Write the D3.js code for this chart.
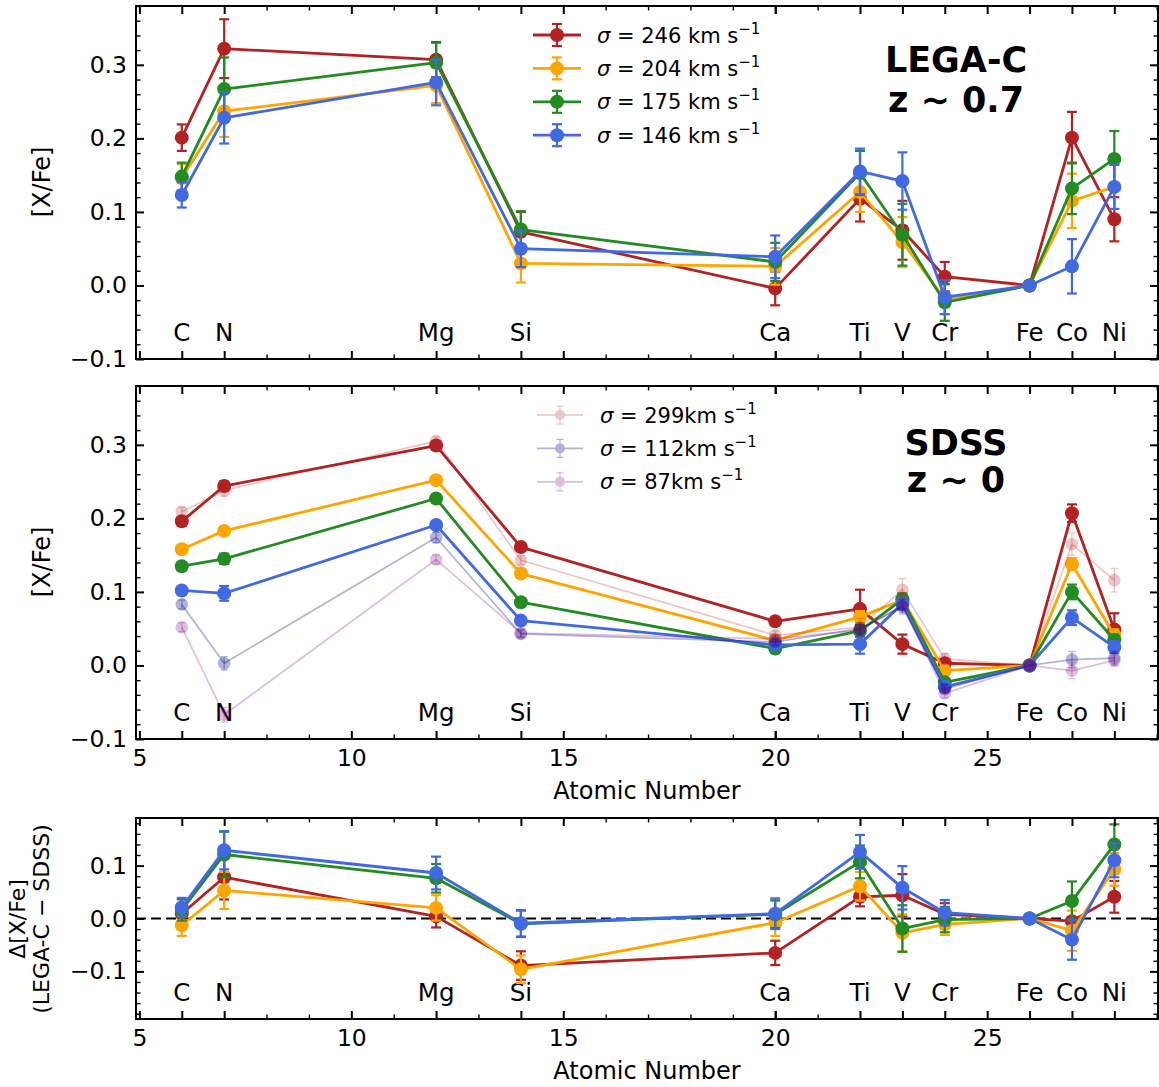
<!DOCTYPE html>
<html><head><meta charset="utf-8">
<script src="https://cdn.jsdelivr.net/npm/d3@7"></script>
<style>body{margin:0;background:#fff;} text{font-family:"DejaVu Sans",sans-serif;fill:#000;}</style>
</head><body><svg id="chart" width="1159" height="1087"></svg>
<script>
// ---------------- DATA ----------------
const elements     = ["C","N","Mg","Si","Ca","Ti","V","Cr","Fe","Co","Ni"];
const atomicNumber = [6, 7, 12, 14, 20, 22, 23, 24, 26, 27, 28];

// LEGA-C z~0.7 [X/Fe]
const legacSigma = [246, 204, 175, 146];
const legac246    = [0.201, 0.322, 0.307, 0.073, -0.004, 0.118, 0.075, 0.012, 0, 0.201, 0.090];
const legac246Err = [0.018, 0.040, 0.024, 0.027, 0.023, 0.031, 0.040, 0.020, 0, 0.035, 0.030];
const legac204    = [0.146, 0.237, 0.272, 0.030, 0.026, 0.127, 0.059, -0.019, 0, 0.115, 0.134];
const legac204Err = [0.019, 0.035, 0.024, 0.026, 0.025, 0.027, 0.034, 0.020, 0, 0.037, 0.030];
const legac175    = [0.148, 0.267, 0.303, 0.076, 0.032, 0.153, 0.069, -0.023, 0, 0.132, 0.172];
const legac175Err = [0.019, 0.043, 0.027, 0.025, 0.026, 0.030, 0.042, 0.025, 0, 0.035, 0.038];
const legac146    = [0.123, 0.228, 0.276, 0.050, 0.039, 0.155, 0.142, -0.016, 0, 0.026, 0.134];
const legac146Err = [0.017, 0.035, 0.031, 0.025, 0.029, 0.031, 0.039, 0.023, 0, 0.037, 0.030];

// SDSS z~0 [X/Fe]
const sdss246    = [0.196, 0.244, 0.299, 0.161, 0.060, 0.077, 0.029, 0.003, 0, 0.207, 0.049];
const sdss246Err = [0.006, 0.006, 0.005, 0.005, 0.004, 0.026, 0.013, 0.005, 0, 0.012, 0.022];
const sdss204    = [0.158, 0.183, 0.252, 0.125, 0.034, 0.066, 0.089, -0.007, 0, 0.138, 0.041];
const sdss204Err = [0.005, 0.005, 0.004, 0.005, 0.004, 0.008, 0.008, 0.005, 0, 0.008, 0.008];
const sdss175    = [0.135, 0.145, 0.227, 0.086, 0.023, 0.047, 0.090, -0.023, 0, 0.100, 0.035];
const sdss175Err = [0.005, 0.007, 0.004, 0.004, 0.004, 0.008, 0.008, 0.005, 0, 0.010, 0.007];
const sdss146    = [0.102, 0.098, 0.191, 0.061, 0.028, 0.029, 0.084, -0.029, 0, 0.065, 0.025];
const sdss146Err = [0.005, 0.010, 0.004, 0.004, 0.004, 0.013, 0.008, 0.006, 0, 0.010, 0.008];
const sdssExtraSigma = [299, 112, 87];
const sdss299    = [0.209, 0.238, 0.305, 0.143, 0.041, 0.052, 0.103, 0.009, 0, 0.165, 0.116];
const sdss299Err = [0.006, 0.008, 0.006, 0.006, 0.006, 0.012, 0.015, 0.007, 0, 0.015, 0.016];
const sdss112    = [0.083, 0.003, 0.174, 0.043, 0.032, 0.050, 0.080, -0.032, 0, 0.008, 0.010];
const sdss112Err = [0.006, 0.009, 0.007, 0.005, 0.005, 0.008, 0.010, 0.006, 0, 0.011, 0.009];
const sdss87     = [0.052, -0.067, 0.144, 0.044, 0.036, 0.048, 0.082, -0.038, 0, -0.007, 0.007];
const sdss87Err  = [0.006, 0.010, 0.006, 0.005, 0.005, 0.008, 0.010, 0.006, 0, 0.011, 0.008];

// Delta (LEGA-C - SDSS)
const delta246    = [0.009, 0.078, 0.004, -0.089, -0.065, 0.041, 0.044, 0.008, 0, -0.005, 0.041];
const delta246Err = [0.018, 0.042, 0.021, 0.027, 0.023, 0.018, 0.040, 0.021, 0, 0.036, 0.030];
const delta204    = [-0.013, 0.053, 0.020, -0.096, -0.008, 0.061, -0.027, -0.011, 0, -0.023, 0.093];
const delta204Err = [0.020, 0.035, 0.024, 0.026, 0.025, 0.027, 0.035, 0.020, 0, 0.038, 0.031];
const delta175    = [0.016, 0.121, 0.076, -0.010, 0.008, 0.107, -0.019, -0.002, 0, 0.033, 0.140];
const delta175Err = [0.020, 0.043, 0.027, 0.025, 0.026, 0.031, 0.044, 0.024, 0, 0.037, 0.038];
const delta146    = [0.021, 0.129, 0.086, -0.009, 0.009, 0.126, 0.058, 0.011, 0, -0.040, 0.110];
const delta146Err = [0.018, 0.036, 0.031, 0.025, 0.029, 0.032, 0.041, 0.024, 0, 0.038, 0.032];

const xTickLabels   = [5, 10, 15, 20, 25];
const yTicksMain    = [-0.1, 0.0, 0.1, 0.2, 0.3];
const yTicksDelta   = [-0.1, 0.0, 0.1];

// ---------------- STYLE ----------------
const mainColors  = ["#b22222", "#ffa500", "#228b22", "#4169e1"];
const extraColors = ["#b22222", "#000080", "#800080"];
const extraAlpha  = [0.25, 0.3, 0.25];
const FONT = "DejaVu Sans";

const svg = d3.select("#chart");
svg.append("rect").attr("width", 1159).attr("height", 1087).attr("fill", "#fff");

const X0 = 136, X1 = 1158;
const x = d3.scaleLinear().domain([4.92, 29.03]).range([X0, X1]);

function makePanel(top, bottom, yDomain) {
  const y = d3.scaleLinear().domain(yDomain).range([bottom, top]);
  const g = svg.append("g");
  return {g, y, top, bottom, yDomain};
}

function drawSeries(p, vals, errs, color, o) {
  const g = p.g.append("g");
  const line = d3.line().x((d, i) => x(atomicNumber[i])).y(d => p.y(d));
  g.append("path").datum(vals).attr("d", line).attr("fill", "none")
    .attr("stroke", color).attr("stroke-width", o.lw).attr("stroke-linejoin", "round")
    .attr("opacity", o.alpha);
  vals.forEach((v, i) => {
    const e = errs[i];
    const cx = x(atomicNumber[i]);
    if (e > 0) {
      const eg = g.append("g").attr("stroke", color).attr("stroke-width", o.elw).attr("opacity", o.alpha);
      eg.append("line").attr("x1", cx).attr("x2", cx).attr("y1", p.y(v - e)).attr("y2", p.y(v + e));
      eg.append("line").attr("x1", cx - o.cap).attr("x2", cx + o.cap).attr("y1", p.y(v - e)).attr("y2", p.y(v - e));
      eg.append("line").attr("x1", cx - o.cap).attr("x2", cx + o.cap).attr("y1", p.y(v + e)).attr("y2", p.y(v + e));
    }
    g.append("circle").attr("cx", cx).attr("cy", p.y(v)).attr("r", o.r)
      .attr("fill", color).attr("opacity", o.alpha);
  });
}

const mainStyle  = {lw: 2.8, r: 7, elw: 2.2, cap: 5, alpha: 1};
const extraStyle = (a) => ({lw: 1.7, r: 6.3, elw: 1.3, cap: 3.5, alpha: a});

function minorValues(lo, hi, step, majors) {
  return d3.range(Math.ceil(lo / step - 1e-9), Math.floor(hi / step + 1e-9) + 1)
    .map(i => +(i * step).toFixed(3))
    .filter(v => !majors.some(m => Math.abs(m - v) < 1e-9));
}

function drawAxes(p, yMajor, showXLabels) {
  const g = p.g.append("g");
  const H = p.bottom - p.top;
  const xMajorLab = xTickLabels;
  const xMajorEl = atomicNumber;
  const xMinor = d3.range(5, 30).filter(v => !xMajorLab.includes(v) && !xMajorEl.includes(v));
  const yMinor = minorValues(p.yDomain[0], p.yDomain[1], 0.02, yMajor);
  const MAJ = 8, MIN = 4.5;

  function styleAxis(sel, w) {
    sel.select(".domain").remove();
    sel.selectAll("line").attr("stroke", "#000").attr("stroke-width", w);
    sel.selectAll("text").attr("font-family", FONT).attr("font-size", 23.5).attr("fill", "#000");
  }
  styleAxis(g.append("g").attr("transform", `translate(0,${p.bottom})`)
    .call(d3.axisBottom(x).tickValues(xMajorLab).tickSize(-MAJ).tickPadding(10.5)
      .tickFormat(showXLabels ? d3.format("d") : () => "")), 2);
  styleAxis(g.append("g").attr("transform", `translate(0,${p.bottom})`)
    .call(d3.axisBottom(x).tickValues(xMajorEl).tickSize(-MAJ).tickFormat(() => "")), 2);
  styleAxis(g.append("g").attr("transform", `translate(0,${p.bottom})`)
    .call(d3.axisBottom(x).tickValues(xMinor).tickSize(-MIN).tickFormat(() => "")), 1.4);
  styleAxis(g.append("g").attr("transform", `translate(0,${p.top})`)
    .call(d3.axisTop(x).tickValues(xMajorLab.concat(xMajorEl)).tickSize(-MAJ).tickFormat(() => "")), 2);
  styleAxis(g.append("g").attr("transform", `translate(0,${p.top})`)
    .call(d3.axisTop(x).tickValues(xMinor).tickSize(-MIN).tickFormat(() => "")), 1.4);
  styleAxis(g.append("g").attr("transform", `translate(${X0},0)`)
    .call(d3.axisLeft(p.y).tickValues(yMajor).tickSize(-MAJ).tickPadding(9).tickFormat(d3.format(".1f"))), 2);
  styleAxis(g.append("g").attr("transform", `translate(${X0},0)`)
    .call(d3.axisLeft(p.y).tickValues(yMinor).tickSize(-MIN).tickFormat(() => "")), 1.4);
  styleAxis(g.append("g").attr("transform", `translate(${X1},0)`)
    .call(d3.axisRight(p.y).tickValues(yMajor).tickSize(-MAJ).tickFormat(() => "")), 2);
  styleAxis(g.append("g").attr("transform", `translate(${X1},0)`)
    .call(d3.axisRight(p.y).tickValues(yMinor).tickSize(-MIN).tickFormat(() => "")), 1.4);
  g.append("rect").attr("x", X0).attr("y", p.top).attr("width", X1 - X0).attr("height", H)
    .attr("fill", "none").attr("stroke", "#000").attr("stroke-width", 2);
}

function elementLabels(p) {
  elements.forEach((el, i) => {
    p.g.append("text").attr("x", x(atomicNumber[i])).attr("y", p.bottom - 18)
      .attr("text-anchor", "middle").attr("font-size", 24.5).text(el);
  });
}

function legendEntry(g, lx0, lx1, cy, color, o, tx, sigma, spaced) {
  const mx = (lx0 + lx1) / 2;
  const e = g.append("g").attr("opacity", o.alpha);
  e.append("line").attr("x1", lx0).attr("x2", lx1).attr("y1", cy).attr("y2", cy)
    .attr("stroke", color).attr("stroke-width", o.lw);
  const eh = o.legErr;
  e.append("line").attr("x1", mx).attr("x2", mx).attr("y1", cy - eh).attr("y2", cy + eh)
    .attr("stroke", color).attr("stroke-width", o.elw);
  [cy - eh, cy + eh].forEach(yy => e.append("line").attr("x1", mx - o.cap).attr("x2", mx + o.cap)
    .attr("y1", yy).attr("y2", yy).attr("stroke", color).attr("stroke-width", o.elw));
  e.append("circle").attr("cx", mx).attr("cy", cy).attr("r", o.r).attr("fill", color);
  const t = g.append("text").attr("x", tx).attr("y", cy + 7.5).attr("font-size", 21);
  t.append("tspan").attr("font-style", "italic").text("σ");
  t.append("tspan").text(" = " + sigma + (spaced ? " km s" : "km s"));
  t.append("tspan").attr("dy", -9).attr("font-size", 15).text("−1");
}

function title(cx, y1, y2, l1, l2) {
  svg.append("text").attr("x", cx).attr("y", y1).attr("text-anchor", "middle")
    .attr("font-size", 35).attr("font-weight", "bold").text(l1);
  svg.append("text").attr("x", cx).attr("y", y2).attr("text-anchor", "middle")
    .attr("font-size", 35).attr("font-weight", "bold").text(l2);
}

function yLabel(xb, cy, txt, fs) {
  svg.append("text").attr("transform", `translate(${xb},${cy}) rotate(-90)`)
    .attr("text-anchor", "middle").attr("font-size", fs).text(txt);
}

// ---------------- PANEL 1: LEGA-C ----------------
const p1 = makePanel(6, 359, [-0.1, 0.38]);
elementLabels(p1);
[[legac246, legac246Err], [legac204, legac204Err], [legac175, legac175Err], [legac146, legac146Err]]
  .forEach((s, k) => drawSeries(p1, s[0], s[1], mainColors[k], mainStyle));
drawAxes(p1, yTicksMain, false);
const lg1 = svg.append("g");
legacSigma.forEach((s, k) => legendEntry(lg1, 533, 581, 35 + k * 33.4, mainColors[k],
  Object.assign({legErr: 11}, mainStyle), 597, s, true));
title(956, 72, 112, "LEGA-C", "z ∼ 0.7");
yLabel(50, 182, "[X/Fe]", 24);

// ---------------- PANEL 2: SDSS ----------------
const p2 = makePanel(386, 739, [-0.1, 0.38]);
elementLabels(p2);
[[sdss246, sdss246Err], [sdss204, sdss204Err], [sdss175, sdss175Err], [sdss146, sdss146Err]]
  .forEach((s, k) => drawSeries(p2, s[0], s[1], mainColors[k], mainStyle));
[[sdss299, sdss299Err], [sdss112, sdss112Err], [sdss87, sdss87Err]]
  .forEach((s, k) => drawSeries(p2, s[0], s[1], extraColors[k], extraStyle(extraAlpha[k])));
drawAxes(p2, yTicksMain, true);
const lg2 = svg.append("g");
sdssExtraSigma.forEach((s, k) => legendEntry(lg2, 537, 583, 415 + k * 33.4, extraColors[k],
  Object.assign({legErr: 9}, extraStyle(extraAlpha[k]), {r: 5}), 600, s, false));
title(956, 455, 492, "SDSS", "z ∼ 0");
yLabel(50, 562, "[X/Fe]", 24);
svg.append("text").attr("x", (X0 + X1) / 2).attr("y", 799).attr("text-anchor", "middle")
  .attr("font-size", 24).text("Atomic Number");

// ---------------- PANEL 3: Delta ----------------
const p3 = makePanel(818, 1019, [-0.19, 0.19]);
p3.g.append("line").attr("x1", X0).attr("x2", X1).attr("y1", p3.y(0)).attr("y2", p3.y(0))
  .attr("stroke", "#000").attr("stroke-width", 2.2).attr("stroke-dasharray", "10,5");
elementLabels(p3);
[[delta246, delta246Err], [delta204, delta204Err], [delta175, delta175Err], [delta146, delta146Err]]
  .forEach((s, k) => drawSeries(p3, s[0], s[1], mainColors[k], mainStyle));
drawAxes(p3, yTicksDelta, true);
yLabel(25, 919, "Δ[X/Fe]", 22);
yLabel(49, 919, "(LEGA-C − SDSS)", 22);
svg.append("text").attr("x", (X0 + X1) / 2).attr("y", 1079).attr("text-anchor", "middle")
  .attr("font-size", 24).text("Atomic Number");
</script></body></html>
